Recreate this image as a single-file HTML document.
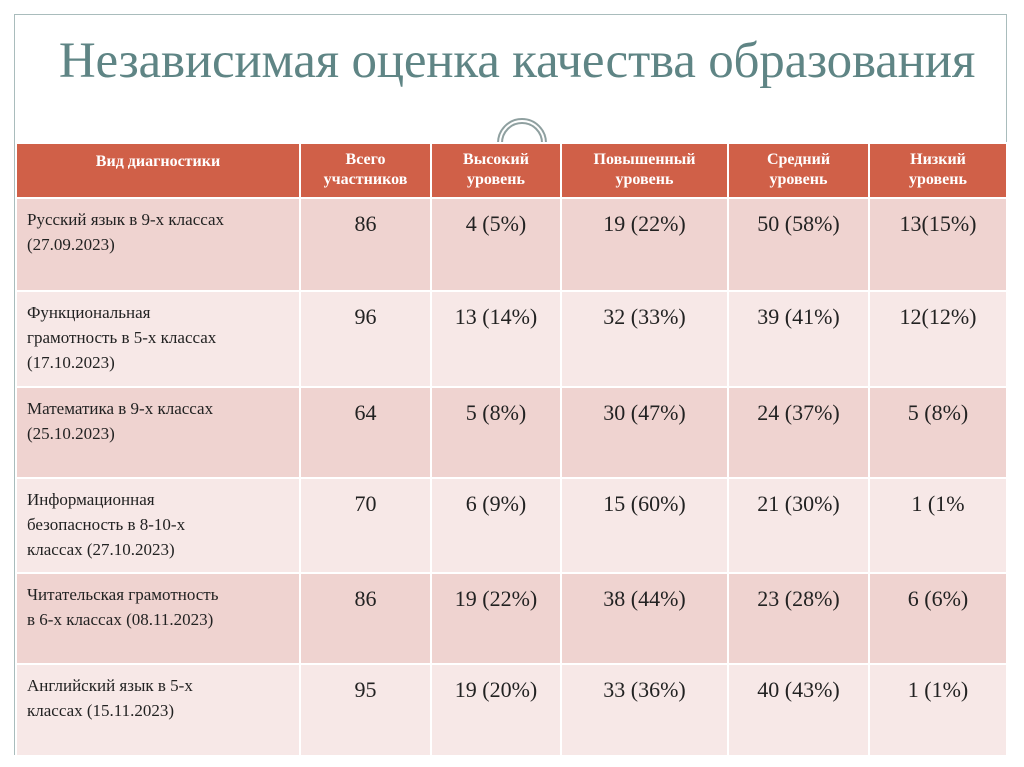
<!DOCTYPE html>
<html><head><meta charset="utf-8"><style>
body{margin:0;width:1024px;height:767px;background:#fff;position:relative;overflow:hidden;font-family:"Liberation Serif",serif}
#frame{position:absolute;left:14px;top:14px;width:993px;height:741px;border:1px solid #a9bcbc;border-bottom:none;box-sizing:border-box}
h1{position:absolute;left:0;width:1034px;top:32px;margin:0;text-align:center;font-weight:normal;font-size:51px;color:#5f8585;letter-spacing:-0.2px}
table{position:absolute;left:15px;top:142px;width:991px;border-collapse:collapse;table-layout:fixed}
td,th{border:2px solid #fff;vertical-align:top;padding:0}
th{background:#d06048;color:#fff;font-size:16px;font-weight:bold;height:55px;line-height:20px;padding-top:6px;box-sizing:border-box}
td{font-size:22px;color:#222;text-align:center;padding-top:12px;box-sizing:border-box}
td.n{font-size:17px;text-align:left;padding-left:10px;line-height:25px;padding-top:8px;white-space:nowrap}
tr.d td{background:#efd3d0}
tr.l td{background:#f7e8e7}
</style></head><body>
<div id="frame"></div>
<h1>Независимая оценка качества образования</h1>
<svg style="position:absolute;left:490px;top:110px" width="64" height="34">
<path d="M8 33 A24 24 0 0 1 56 33" fill="none" stroke="#8fa0a0" stroke-width="2"/>
<path d="M12 33 A20 20 0 0 1 52 33" fill="none" stroke="#8fa0a0" stroke-width="2"/>
</svg>
<table>
<colgroup><col style="width:284px"><col style="width:131px"><col style="width:130px"><col style="width:167px"><col style="width:141px"><col style="width:138px"></colgroup>
<tr><th style="padding-top:8px">Вид диагностики</th><th>Всего<br>участников</th><th>Высокий<br>уровень</th><th>Повышенный<br>уровень</th><th>Средний<br>уровень</th><th>Низкий<br>уровень</th></tr>
<tr class="d" style="height:93px"><td class="n">Русский язык в 9-х классах<br>(27.09.2023)</td><td>86</td><td>4 (5%)</td><td>19 (22%)</td><td>50 (58%)</td><td>13(15%)</td></tr>
<tr class="l" style="height:96px"><td class="n">Функциональная<br>грамотность в 5-х классах<br>(17.10.2023)</td><td>96</td><td>13 (14%)</td><td>32 (33%)</td><td>39 (41%)</td><td>12(12%)</td></tr>
<tr class="d" style="height:91px"><td class="n">Математика в 9-х классах<br>(25.10.2023)</td><td>64</td><td>5 (8%)</td><td>30 (47%)</td><td>24 (37%)</td><td>5 (8%)</td></tr>
<tr class="l" style="height:95px"><td class="n">Информационная<br>безопасность в 8-10-х<br>классах (27.10.2023)</td><td>70</td><td>6 (9%)</td><td>15 (60%)</td><td>21 (30%)</td><td>1 (1%</td></tr>
<tr class="d" style="height:91px"><td class="n">Читательская грамотность<br>в 6-х классах (08.11.2023)</td><td>86</td><td>19 (22%)</td><td>38 (44%)</td><td>23 (28%)</td><td>6 (6%)</td></tr>
<tr class="l" style="height:92px"><td class="n">Английский язык в 5-х<br>классах (15.11.2023)</td><td>95</td><td>19 (20%)</td><td>33 (36%)</td><td>40 (43%)</td><td>1 (1%)</td></tr>
</table>
</body></html>
